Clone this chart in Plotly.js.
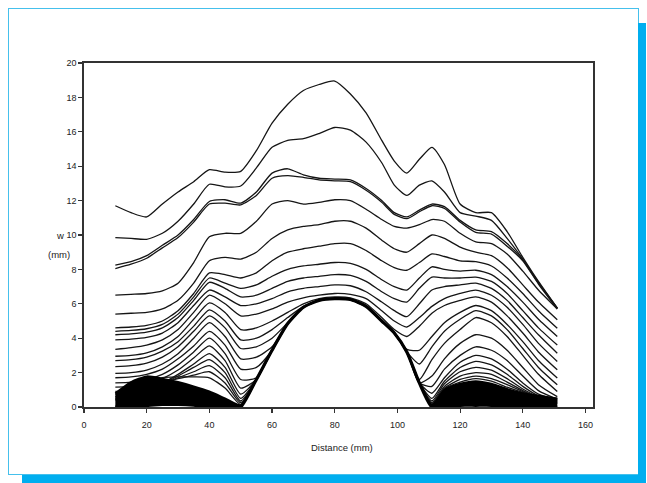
<!DOCTYPE html>
<html>
<head>
<meta charset="utf-8">
<script src="https://cdn.plot.ly/plotly-3.0.1.min.js"></script>
<style>
html,body{margin:0;padding:0;background:#fff;}
#wrap{position:relative;width:647px;height:483px;overflow:hidden;background:#fff;}
.frame{position:absolute;left:8px;top:8px;width:629px;height:465px;border:1px solid #45c0ec;box-sizing:content-box;}
.shr{position:absolute;left:638px;top:23px;width:8px;height:460px;background:#00aeef;}
.shb{position:absolute;left:22px;top:475px;width:624px;height:8px;background:#00aeef;}
#chart{position:absolute;left:0;top:0;width:647px;height:483px;}
</style>
</head>
<body>
<div id="wrap">
  <div class="frame"></div>
  <div class="shr"></div>
  <div class="shb"></div>
  <div id="chart"></div>
</div>
<script>
// Distance (mm)
const xs = [10,15,20,25,30,35,40,45,50,55,60,65,70,75,80,85,90,95,99,103,107,111,115,120,125,130,135,140,145,151];
const xTicks = [0,20,40,60,80,100,120,140,160];
const yTicks = [0,2,4,6,8,10,12,14,16,18,20];

// w (mm) profiles, top to bottom
const wA = [11.7,11.3,11.05,11.8,12.5,13.1,13.8,13.65,13.7,14.9,16.5,17.6,18.4,18.75,18.95,18.2,17.1,15.5,14.3,13.6,14.4,15.1,14.1,11.8,11.3,11.3,10.2,8.7,7.3,5.75];
const wB = [9.85,9.8,9.75,10.1,10.8,11.8,12.95,12.8,12.85,13.9,15.1,15.5,15.6,15.9,16.25,16.1,15.4,14.2,12.9,12.3,12.9,13.15,12.5,11.3,11.1,10.85,9.8,8.6,7.25,5.75];
const wC = [8.25,8.45,8.8,9.4,10.0,10.9,11.95,12.05,11.85,12.5,13.6,13.85,13.5,13.3,13.25,13.2,12.7,12.0,11.3,11.05,11.45,11.8,11.65,10.85,10.3,10.2,9.5,8.55,7.2,5.75];
const wD = [8.05,8.3,8.65,9.25,9.85,10.75,11.8,11.85,11.75,12.3,13.3,13.45,13.35,13.2,13.15,13.1,12.6,11.9,11.2,10.95,11.35,11.7,11.55,10.75,10.15,10.05,9.35,8.5,7.15,5.7];
const wE = [6.5,6.55,6.6,6.75,7.2,8.4,9.9,10.1,10.1,10.8,11.8,12.0,11.8,11.9,12.05,12.0,11.5,10.9,10.5,10.4,10.6,10.9,10.8,10.1,9.6,9.5,8.9,7.9,6.8,5.7];
const wF = [5.4,5.45,5.5,5.7,6.2,7.2,8.5,8.7,8.6,9.0,9.8,10.3,10.5,10.6,10.8,10.8,10.4,9.7,9.2,9.0,9.5,10.0,9.8,9.3,9.0,8.8,8.1,7.1,6.1,5.07];
const wG = [4.6,4.65,4.75,5.0,5.6,6.6,7.8,7.7,7.5,7.8,8.5,9.0,9.2,9.35,9.5,9.5,9.1,8.5,8.1,7.95,8.4,8.9,8.75,8.5,8.45,8.2,7.5,6.6,5.6,4.58];
const wH = [4.4,4.45,4.55,4.8,5.4,6.4,7.5,7.2,6.9,7.1,7.6,8.0,8.2,8.3,8.4,8.35,8.0,7.4,7.0,6.8,7.5,8.15,8.0,7.9,7.95,7.7,7.0,6.1,5.1,4.1];
const wI = [4.2,4.25,4.35,4.6,5.2,6.2,7.25,6.9,6.4,6.5,6.9,7.3,7.5,7.6,7.7,7.65,7.3,6.7,6.3,6.1,6.9,7.55,7.5,7.5,7.55,7.3,6.6,5.6,4.6,3.6];
const wJ = [3.9,3.95,4.05,4.3,4.9,5.9,6.8,6.4,5.9,6.0,6.3,6.7,6.9,7.0,7.1,7.05,6.7,6.1,5.6,5.25,6.0,6.8,7.0,7.1,7.2,6.9,6.2,5.2,4.2,3.13];
const wK = [3.35,3.45,3.6,3.9,4.5,5.5,6.5,6.0,5.3,5.4,5.7,6.1,6.35,6.5,6.6,6.55,6.3,5.6,5.0,4.65,5.2,5.85,6.3,6.6,6.8,6.5,5.8,4.8,3.7,2.65];
const wL = [2.95,3.0,3.15,3.5,4.1,5.1,6.05,5.5,4.5,4.6,5.0,5.5,6.0,6.3,6.4,6.35,6.0,5.2,4.5,4.1,4.7,5.45,5.9,6.2,6.4,6.1,5.3,4.3,3.2,2.16];
const wM = [2.7,2.75,2.9,3.25,3.8,4.7,5.65,5.0,3.9,4.0,4.5,5.2,5.85,6.2,6.3,6.25,5.9,5.05,4.35,3.35,3.3,4.1,4.9,5.5,5.9,5.6,4.8,3.8,2.7,1.68];
const wN = [2.35,2.4,2.55,2.9,3.5,4.4,5.3,4.6,3.4,3.5,4.0,4.9,5.8,6.2,6.3,6.25,5.85,5.0,4.3,3.2,2.5,3.5,4.4,5.1,5.6,5.3,4.5,3.4,2.3,1.29];
const wO = [1.95,2.0,2.15,2.5,3.1,4.0,4.9,4.1,2.8,2.9,3.5,4.85,5.8,6.2,6.3,6.25,5.85,5.0,4.3,3.2,1.6,2.75,3.7,4.5,5.2,4.9,4.1,3.0,1.9,0.9];
const wP = [1.7,1.75,1.9,2.2,2.8,3.55,4.4,3.6,2.2,2.3,3.3,4.85,5.8,6.2,6.3,6.25,5.85,5.0,4.3,3.2,1.4,1.8,2.8,3.7,4.2,4.0,3.3,2.3,1.3,0.6];
const wQ = [1.4,1.45,1.6,1.9,2.45,3.2,4.0,3.1,1.6,1.7,3.3,4.85,5.8,6.2,6.3,6.25,5.85,5.0,4.3,3.2,1.4,1.2,2.2,3.0,3.5,3.3,2.7,1.8,0.95,0.45];
const wR = [1.15,1.2,1.35,1.65,2.15,2.85,3.55,2.7,1.1,1.6,3.3,4.85,5.8,6.2,6.3,6.25,5.85,5.0,4.3,3.2,1.4,0.8,1.7,2.6,3.0,2.8,2.2,1.4,0.75,0.4];
const wS = [0.9,0.95,1.1,1.4,1.9,2.5,3.1,2.3,0.75,1.6,3.3,4.85,5.8,6.2,6.3,6.25,5.85,5.0,4.3,3.2,1.4,0.5,1.5,2.3,2.65,2.45,1.9,1.2,0.65,0.35];
const wT = [0.75,0.85,1.05,1.35,1.8,2.3,2.75,2.0,0.5,1.6,3.3,4.85,5.8,6.2,6.3,6.25,5.85,5.0,4.3,3.2,1.4,0.35,1.35,2.05,2.3,2.15,1.65,1.05,0.6,0.3];
const wU = [0.6,0.8,1.05,1.35,1.7,2.05,2.4,1.7,0.35,1.6,3.3,4.85,5.8,6.2,6.3,6.25,5.85,5.0,4.3,3.2,1.4,0.25,1.2,1.8,2.0,1.9,1.45,0.95,0.55,0.25];
const wV = [0.5,0.8,1.1,1.4,1.65,1.85,2.05,1.4,0.25,1.6,3.3,4.85,5.8,6.2,6.3,6.25,5.85,5.0,4.3,3.2,1.4,0.18,1.1,1.6,1.8,1.65,1.3,0.9,0.5,0.2];
const wW = [0.4,0.9,1.4,1.7,1.75,1.75,1.7,1.1,0.15,1.6,3.3,4.85,5.8,6.2,6.3,6.25,5.85,5.0,4.3,3.2,1.4,0.12,1.05,1.45,1.65,1.5,1.15,0.85,0.6,0.5];
// upper edge of the dense low bundle
const wX = [0.8,1.45,1.78,1.65,1.45,1.2,0.9,0.5,0.1,1.6,3.3,4.85,5.8,6.2,6.3,6.25,5.85,5.0,4.3,3.2,1.4,0.1,1.0,1.35,1.5,1.35,1.05,0.8,0.65,0.5];
// initial profile
const wBase = [0.0,0.05,0.1,0.15,0.15,0.1,0.0,-0.25,0.0,1.6,3.3,4.85,5.8,6.2,6.3,6.25,5.85,5.0,4.3,3.2,1.4,0.0,0.05,0.1,0.1,0.1,0.05,0.0,0.0,0.0];

const profiles = [wA,wB,wC,wD,wE,wF,wG,wH,wI,wJ,wK,wL,wM,wN,wO,wP,wQ,wR,wS,wT,wU,wV,wW];

const lineShape = {shape:'spline', smoothing:0.6};
const traces = [];
profiles.forEach(function(ys){
  traces.push({x: xs, y: ys, type:'scatter', mode:'lines', hoverinfo:'skip',
    line:Object.assign({color:'#151515', width:1.3}, lineShape)});
});
traces.push({x: xs, y: wX, type:'scatter', mode:'lines', hoverinfo:'skip',
  line:Object.assign({color:'#000', width:2}, lineShape)});
traces.push({x: xs, y: wBase, type:'scatter', mode:'lines', hoverinfo:'skip',
  fill:'tonexty', fillcolor:'#000',
  line:Object.assign({color:'#000', width:3.2}, lineShape)});

const tickFont = {family:'Liberation Sans, Arial, sans-serif', size:9, color:'#222'};

const layout = {
  width:647, height:483,
  margin:{l:84, r:54, t:62.7, b:75.7, pad:0},
  paper_bgcolor:'rgba(0,0,0,0)',
  plot_bgcolor:'#fff',
  showlegend:false,
  xaxis:{range:[0,162.4], tickvals:xTicks, ticktext:xTicks.map(String), ticks:'outside', ticklen:4, tickwidth:1.2,
    tickcolor:'#333', showgrid:false, zeroline:false, showline:true, mirror:true, linecolor:'#333', linewidth:1.6,
    tickfont:tickFont, ticklabelstandoff:5, fixedrange:true},
  yaxis:{range:[0,20], tickvals:yTicks, ticktext:yTicks.map(String), ticks:'outside', ticklen:4, tickwidth:1.2,
    tickcolor:'#333', showgrid:false, zeroline:false, showline:true, mirror:true, linecolor:'#333', linewidth:1.6,
    tickfont:tickFont, fixedrange:true},
  annotations:[
    {text:'Distance (mm)', xref:'paper', yref:'paper', x:0.507, y:-0.118, xanchor:'center', yanchor:'middle',
     showarrow:false, font:{family:'Liberation Sans, Arial, sans-serif', size:9.5, color:'#222'}},
    {text:'w', xref:'paper', yref:'paper', x:-0.047, y:0.4985, xanchor:'center', yanchor:'middle',
     showarrow:false, font:{family:'Liberation Sans, Arial, sans-serif', size:9.5, color:'#222'}},
    {text:'(mm)', xref:'paper', yref:'paper', x:-0.049, y:0.442, xanchor:'center', yanchor:'middle',
     showarrow:false, font:{family:'Liberation Sans, Arial, sans-serif', size:9.5, color:'#222'}}
  ]
};

Plotly.newPlot('chart', traces, layout, {staticPlot:true, displayModeBar:false});
</script>
</body>
</html>
